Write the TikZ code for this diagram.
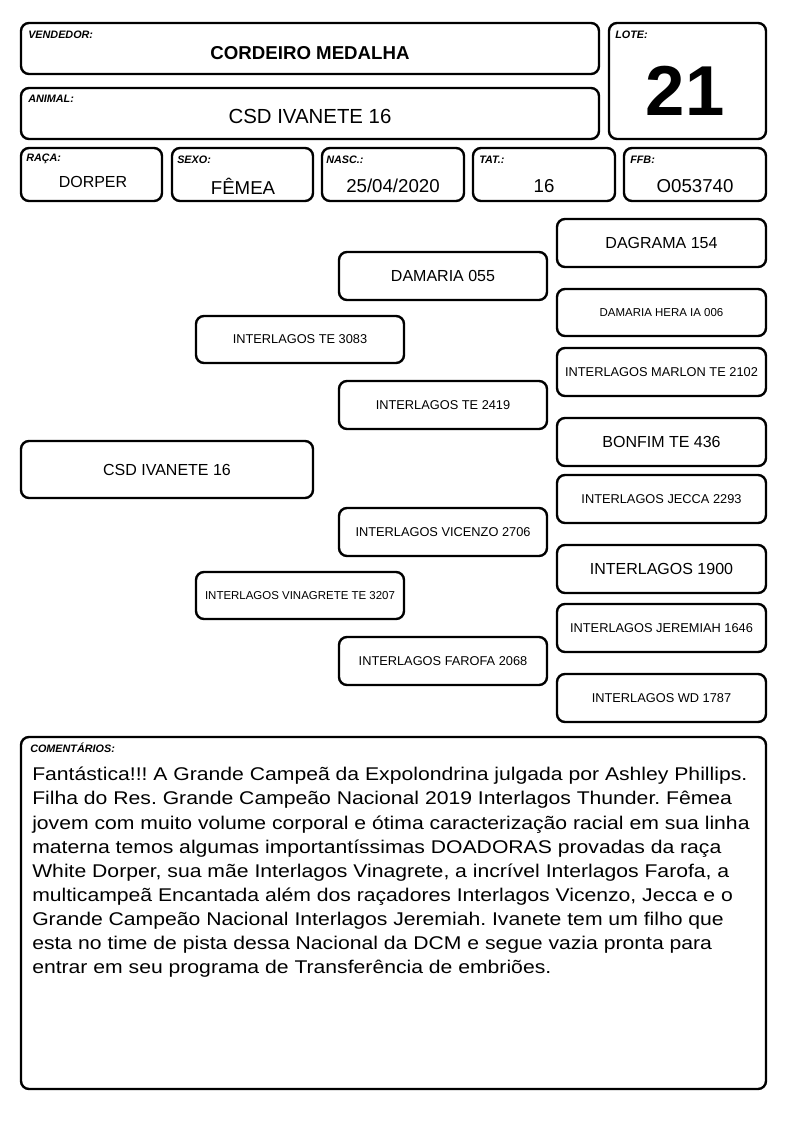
\documentclass[tikz,border=0pt]{standalone}
\usepackage{fontspec}
\setmainfont{Liberation Sans}
\newfontfamily\comentfont[FakeStretch=1.15]{Liberation Sans}
\usetikzlibrary{positioning}
\tikzset{
    cell/.style 2 args={rectangle, draw, line width=1.8pt, rounded corners=6pt,
                minimum width=#1*0.75pt, minimum height=#2*0.75pt,
                inner sep=0pt, align=center},
    tag/.style={font=\fontsize{8.1}{9}\selectfont\bfseries\itshape,
                inner sep=0pt, anchor=west},
    val/.style={font=\fontsize{14}{16}\selectfont, inner sep=0pt},
    big/.style={font=\fontsize{12}{14}\selectfont},
    small/.style={font=\fontsize{9.6}{11}\selectfont},
    tiny/.style={font=\fontsize{8.6}{10}\selectfont}
}

\begin{document}
\begin{tikzpicture}[x=0.75pt, y=-0.75pt]
            \useasboundingbox (0,0) rectangle (794,1123);

            % header
            \node[cell={578}{51}] (vend) at (310,48.5) {};
            \node[cell={578}{51}] (anim) at (310,113.5) {};
            \node[cell={157}{116}] (lote) at (687.5,81) {};
            \node[cell={141}{53}] (raca) at (91.5,174.5) {};
            \node[cell={141}{53}] (sexo) at (242.5,174.5) {};
            \node[cell={142}{53}] (nasc) at (393,174.5) {};
            \node[cell={142}{53}] (tat)  at (544,174.5) {};
            \node[cell={142}{53}] (ffb)  at (695,174.5) {};

            \node[tag] (vendtag) at (28,35) {VENDEDOR:};
            \node[tag] (animtag) at (28,99) {ANIMAL:};
            \node[tag] (lotetag) at (615,35) {LOTE:};
            \node[tag] (racatag) at (26,159) {RAÇA:};
            \node[tag] (sexotag) at (177,160) {SEXO:};
            \node[tag] (nasctag) at (326,160) {NASC.:};
            \node[tag] (tattag)  at (479,160) {TAT.:};
            \node[tag] (ffbtag)  at (630,160) {FFB:};

            \node[val, font=\fontsize{14}{16}\selectfont\bfseries] (vendval) at (310,53) {CORDEIRO MEDALHA};
            \node[val, font=\fontsize{15.3}{17}\selectfont] (animval) at (310,116) {CSD IVANETE 16};
            \node[val, font=\fontsize{53}{58}\selectfont\bfseries] (loteval) at (685,91) {21};
            \node[val, font=\fontsize{12}{14}\selectfont] (racaval) at (93,182) {DORPER};
            \node[val] (sexoval) at (243,186) {FÊMEA};
            \node[val] (nascval) at (393,186) {25/04/2020};
            \node[val] (tatval)  at (544,186) {16};
            \node[val] (ffbval)  at (695,186) {O053740};

            % pedigree
            \node[cell={292}{57}, big] (me) at (167,469.5) {CSD IVANETE 16};
            \node[cell={208}{47}, small] (sire) at (300,339.5) {INTERLAGOS TE 3083};
            \node[cell={208}{47}, tiny] (dam) at (300,595.5) {INTERLAGOS VINAGRETE TE 3207};
            \node[cell={208}{48}, big] (ss) at (443,276) {DAMARIA 055};
            \node[cell={208}{48}, small] (sd) at (443,405) {INTERLAGOS TE 2419};
            \node[cell={208}{48}, small] (ds) at (443,532) {INTERLAGOS VICENZO 2706};
            \node[cell={208}{48}, small] (dd) at (443,661) {INTERLAGOS FAROFA 2068};
            \node[cell={209}{48}, big] (sss) at (661.5,243) {DAGRAMA 154};
            \node[cell={209}{47}, tiny] (ssd) at (661.5,312.5) {DAMARIA HERA IA 006};
            \node[cell={209}{48}, small] (sds) at (661.5,372) {INTERLAGOS MARLON TE 2102};
            \node[cell={209}{48}, big] (sdd) at (661.5,442) {BONFIM TE 436};
            \node[cell={209}{48}, small] (dss) at (661.5,499) {INTERLAGOS JECCA 2293};
            \node[cell={209}{48}, big] (dsd) at (661.5,569) {INTERLAGOS 1900};
            \node[cell={209}{48}, small] (dds) at (661.5,628) {INTERLAGOS JEREMIAH 1646};
            \node[cell={209}{48}, small] (ddd) at (661.5,698) {INTERLAGOS WD 1787};

            % comments
            \node[cell={745}{352}] (coment) at (393.5,913) {};
            \node[tag] (comenttag) at (30,748) {COMENTÁRIOS:};
            \node[inner sep=0pt, anchor=north west, align=left,
                  font=\comentfont\fontsize{13.8}{18.1}\selectfont\frenchspacing] (comentval) at (32,767)
                {Fantástica!!! A Grande Campeã da Expolondrina julgada por Ashley Phillips.\\
                 Filha do Res. Grande Campeão Nacional 2019 Interlagos Thunder. Fêmea\\
                 jovem com muito volume corporal e ótima caracterização racial em sua linha\\
                 materna temos algumas importantíssimas DOADORAS provadas da raça\\
                 White Dorper, sua mãe Interlagos Vinagrete, a incrível Interlagos Farofa, a\\
                 multicampeã Encantada além dos raçadores Interlagos Vicenzo, Jecca e o\\
                 Grande Campeão Nacional Interlagos Jeremiah. Ivanete tem um filho que\\
                 esta no time de pista dessa Nacional da DCM e segue vazia pronta para\\
                 entrar em seu programa de Transferência de embriões.};
        \end{tikzpicture}
\end{document}
